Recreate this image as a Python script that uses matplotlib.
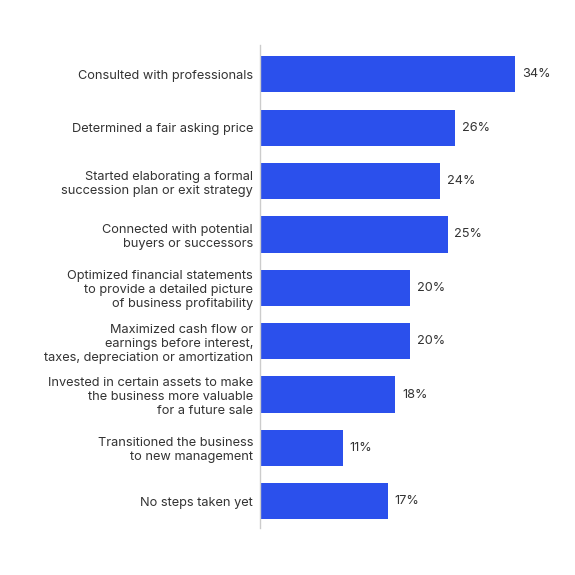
import matplotlib.pyplot as plt

labels = [
    "Consulted with professionals",
    "Determined a fair asking price",
    "Started elaborating a formal\nsuccession plan or exit strategy",
    "Connected with potential\nbuyers or successors",
    "Optimized financial statements\nto provide a detailed picture\nof business profitability",
    "Maximized cash flow or\nearnings before interest,\ntaxes, depreciation or amortization",
    "Invested in certain assets to make\nthe business more valuable\nfor a future sale",
    "Transitioned the business\nto new management",
    "No steps taken yet",
]
values = [34, 26, 24, 25, 20, 20, 18, 11, 17]

bar_color = "#2b50ec"
text_color = "#333333"

plt.rcParams['font.family'] = ['Inter', 'DejaVu Sans']

fig = plt.figure(figsize=(5.75, 5.75), dpi=100)
ax = fig.add_axes([260/575, 47/575, 300/575, 483/575])

ypos = list(range(len(values)))
ax.barh(ypos, values, height=0.68, color=bar_color)

for y, v in zip(ypos, values):
    ax.annotate(f"{v}%", (v, y), xytext=(5, 0), textcoords="offset points",
                va="center", ha="left", fontsize=9.2, color=text_color)

ax.set_yticks(ypos)
ax.set_yticklabels(labels, fontsize=9.2, color=text_color, linespacing=1.22)
ax.tick_params(axis="y", length=0, pad=5)
ax.set_xticks([])
ax.set_xlim(0, 40)
ax.set_ylim(8.5, -0.55)

for s in ["top", "right", "bottom"]:
    ax.spines[s].set_visible(False)
ax.spines["left"].set_color("#cccccc")
ax.spines["left"].set_linewidth(1)

fig.savefig("out.png", dpi=100, facecolor="white")
